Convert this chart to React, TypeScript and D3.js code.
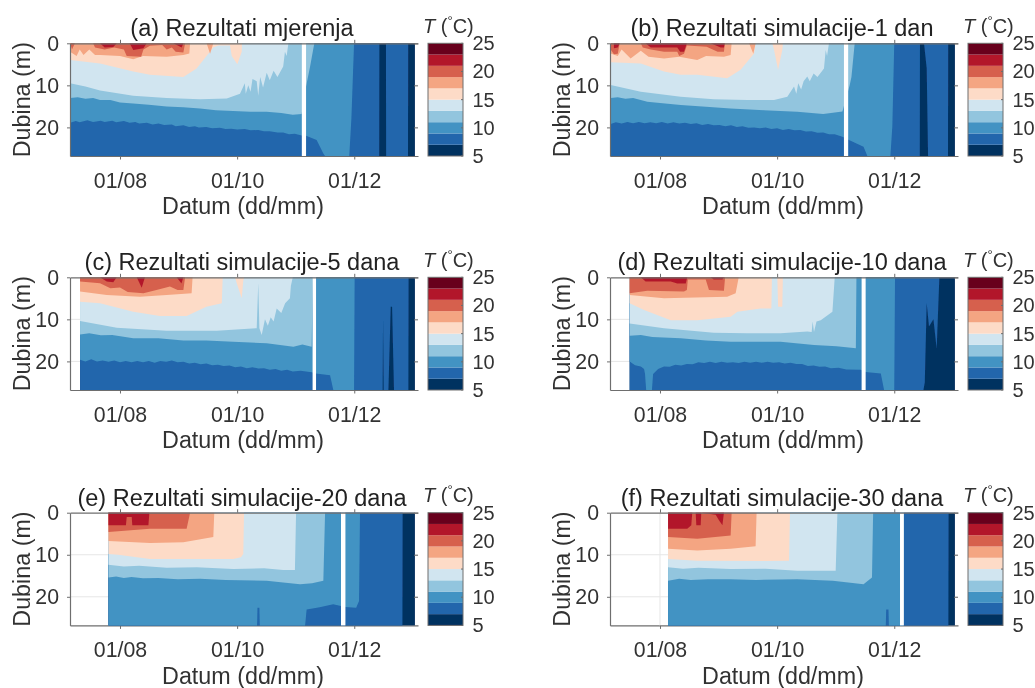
import React, { useEffect, useRef } from 'react';
import * as d3 from 'd3';

type Pt = [number, number];

// x is days counted from 1 Aug, depth is metres
const monthTicks = [0, 61, 122];
const monthLabels = ['01/08', '01/10', '01/12'];
const depthTicks = [0, 10, 20];
const barTicks = [5, 10, 15, 20, 25];
const barEdges = [5, 7, 9, 11, 13, 15, 17, 19, 21, 23, 25];
const bandColors = ['#053061', '#2166ac', '#4393c3', '#92c5de', '#d1e5f0', '#fddbc7', '#f4a582', '#d6604d', '#b2182b', '#67001f'];
const maxDepth = 26.8;
const lastDay = 153.6;

// (a) measurements
const a7: Pt[] = [[-26, 27], [135, 27], [135.1, 0], [138.5, 0], [138.6, 27], [150, 27], [150.1, 0], [lastDay, 0]];
const a9: Pt[] = [[-26, 18.9], [-23, 18.5], [-21, 18.8], [-17, 18.3], [-14, 18.7], [-10, 18.4], [-8, 18.7], [-4, 18.4], [-2, 18.8], [2, 18.5], [5, 18.9], [8, 18.7], [10, 19.1], [14, 18.9], [17, 19.3], [20, 19.1], [23, 19.4], [27, 19.3], [29, 19.7], [33, 19.5], [36, 19.9], [39, 19.7], [41, 20], [45, 19.9], [48, 20.2], [52, 20.1], [55, 20.4], [58, 20.3], [61, 20.5], [65, 20.4], [68, 20.7], [72, 20.6], [75, 20.9], [78, 20.9], [82, 21.2], [85, 21.2], [88, 21.6], [91, 21.5], [94.6, 21.9], [96.9, 22], [102.4, 23], [105.9, 26.2], [106.8, 27], [119.4, 27], [120.5, 18], [121.9, 0], [lastDay, 0]];
const a11: Pt[] = [[-26, 13], [-22, 12.8], [-18, 13.2], [-14, 13], [-10.4, 13.5], [-5, 13.5], [0, 14.1], [6.9, 14.3], [15, 14.6], [24.3, 15], [33, 15.2], [41.7, 15.5], [50, 15.9], [59, 16.1], [68, 16.3], [76.4, 16.3], [84, 16.6], [90, 17], [94.6, 16.8], [96.9, 10.3], [99, 5.5], [101.2, 0], [lastDay, 0]];
const a13: Pt[] = [[-26, 9.5], [-18, 10.3], [-10.4, 11.2], [6.9, 12.5], [24.3, 13], [41.7, 13.3], [55.6, 13.1], [62.5, 12], [65, 9.5], [65.5, 12], [66.8, 10], [68, 11.5], [69, 8.5], [71.2, 9], [72, 12.5], [73, 8], [74.5, 10.5], [76.4, 7], [78, 8.8], [80, 6.5], [82, 8], [85, 5.5], [85.9, 2], [86.8, 3], [87.7, 0], [lastDay, 0]];
const a15: Pt[] = [[-26, 4], [-10.4, 4.8], [6.9, 6.7], [15.6, 7.5], [33, 8], [39.9, 6], [48.6, 1], [51.2, 0.5], [57.3, 0.5], [58.2, 3], [61.1, 5], [63.4, 2], [63.5, 0], [lastDay, 0]];
const a17: Pt[] = [[-26, 2], [-22.6, 3], [-21, 1.5], [-19, 2.8], [-16, 1.5], [-13, 2.8], [-10.4, 2.8], [0, 3], [6.9, 3.8], [12, 3], [24.3, 3.2], [33, 2.8], [36.1, 2.4], [36.5, 0], [45.1, 0], [46.9, 2.5], [48.6, 0], [lastDay, 0]];
const a19: Pt[] = [[-26, 0], [-25, 1.5], [-23.5, 0], [-14, 0], [-13, 1], [-8, 1.5], [-3, 1], [2, 1.5], [3.5, 3], [11, 3.2], [12.2, 1.5], [15.6, 0.6], [22, 0.4], [24.3, 1.5], [27, 1], [29, 2], [33, 2.2], [33.9, 0], [lastDay, 0]];
const a21: Pt[] = [[-10.4, 0], [-8, 1], [-3.5, 0.9], [-1.7, 0], [5, 0], [6.9, 1.6], [12.2, 1.2], [13.9, 0], [27.8, 0], [32.1, 1], [33, 0], [lastDay, 0]];

// (b) simulation, 1 day
const b7: Pt[] = [[-25.7, 27], [135.3, 27], [135.4, 0], [137.5, 0], [138.9, 6], [139.6, 27], [150, 27], [150.1, 0], [lastDay, 0]];
const b9: Pt[] = [[-25.7, 19.2], [-23, 18.8], [-20, 19.1], [-17, 18.7], [-14, 19], [-11, 18.7], [-8, 19], [-5, 18.8], [-2, 19], [1, 18.7], [4, 19.1], [7, 18.8], [10, 19.1], [13, 18.9], [16, 19.2], [19, 19], [22, 19.4], [25, 19.2], [28, 19.5], [31, 19.4], [34, 19.7], [37, 19.5], [40, 19.9], [43, 19.7], [46, 20.1], [49, 20], [52, 20.2], [55, 20], [58, 20.4], [61, 20.2], [64, 20.6], [67, 20.4], [70, 20.7], [73, 20.6], [76, 21], [79, 20.9], [82, 21.3], [85, 21.2], [88, 21.6], [91, 21.6], [95, 22.2], [98.4, 23], [106, 24.6], [108, 27], [120, 27], [121, 19.8], [122, 0], [lastDay, 0]];
const b11: Pt[] = [[-25.7, 13], [-22, 12.8], [-18, 13.2], [-14, 13], [-6.6, 13.9], [0, 14.2], [10.8, 14.7], [24, 15.1], [36.8, 15.5], [54.2, 15.9], [71.5, 16.3], [85, 16.8], [95, 16.2], [98.8, 10], [99.7, 8], [101.4, 0], [lastDay, 0]];
const b13: Pt[] = [[-25.7, 9.9], [-10, 11.5], [10.8, 12.7], [28, 13.3], [45.5, 13.5], [59.4, 13.5], [66.3, 12.7], [69.8, 10.3], [71, 12], [72, 9.5], [73.5, 11], [74.8, 9], [76.7, 7.9], [78, 9], [80, 7.2], [82, 8], [85.4, 6], [86.3, 1.6], [87, 3], [88, 0], [lastDay, 0]];
const b15: Pt[] = [[-25.7, 4.5], [-10, 4.8], [2.1, 6.7], [10.8, 7.5], [19.4, 7.5], [35, 8.3], [42, 6.3], [49, 2.4], [49.8, 0], [58.5, 0], [59.4, 1.6], [61.5, 6.3], [63.7, 1.6], [64, 0], [lastDay, 0]];
const b17: Pt[] = [[-25.7, 2.4], [-22, 3], [-20, 1.5], [-15.3, 3.6], [-10, 1.8], [-6, 3.2], [2.1, 3.6], [10, 3.2], [19.4, 4], [24, 3], [33.3, 3.2], [36.8, 2.8], [37.3, 0], [46.4, 0], [48.6, 2.5], [49.8, 0], [lastDay, 0]];
const b19: Pt[] = [[-25.7, 1.5], [-24, 2.6], [-22, 2.5], [-21, 0], [-10, 0], [-9, 1], [-4.8, 1.5], [2.1, 2], [9, 2], [10, 3], [12.5, 2.5], [14, 0.5], [24.3, 0.8], [30, 2], [33.3, 2], [33.8, 0], [lastDay, 0]];
const b21: Pt[] = [[-24, 1.2], [-22, 1], [-21, 0], [-7.5, 0], [-4.8, 1], [9, 1], [10.5, 2], [12.5, 2], [14, 0], [26.4, 0], [31.6, 1], [33.3, 1], [33.7, 0], [lastDay, 0]];

// (c) simulation, 5 days
const c7: Pt[] = [[-20.8, 27], [136.8, 27], [137, 10], [137.3, 27], [139.8, 27], [141, 7], [141.7, 7], [142.7, 27], [150.2, 27], [150.3, 0], [lastDay, 0]];
const c9: Pt[] = [[-20.8, 19.6], [-18, 20], [-15, 19.5], [-12, 20], [-9, 19.8], [-6, 20.1], [-3, 19.8], [0, 20.2], [3, 19.9], [6, 20.2], [9, 19.9], [12, 20.2], [15, 19.9], [18, 20.3], [21, 19.9], [24, 20.1], [27, 19.8], [30, 20.2], [33, 20.1], [36, 20.5], [39, 20.3], [42, 20.7], [45, 20.5], [48, 20.9], [51, 20.8], [54, 21.1], [57, 21], [60, 21.4], [63, 21.2], [66, 21.6], [69, 21.4], [72, 21.7], [75, 21.6], [78, 22], [81, 21.8], [84, 22.2], [87, 22], [90, 22.4], [94, 22.2], [99.8, 22.6], [102, 22.9], [109.4, 23.3], [111.1, 26.8], [112, 27], [121.9, 27], [122.2, 0], [lastDay, 0]];
const c11: Pt[] = [[-20.8, 13.6], [-16, 13.3], [-10, 13.8], [-4, 13.7], [6.9, 14.5], [20, 14.5], [33, 15], [45, 15], [59, 15.3], [76.4, 15.7], [90.3, 16.5], [95, 16], [99.8, 16.5], [100.4, 0], [lastDay, 0]];
const c13: Pt[] = [[-20.8, 10.4], [-1.7, 12], [24.3, 12.7], [50.3, 12.7], [71.2, 12.1], [72, 1.4], [72.6, 12.1], [73.8, 13.7], [75.5, 10], [77, 11.5], [78.5, 9.5], [80, 10.5], [81.6, 7.4], [84, 8.5], [86, 6.2], [88.5, 5], [89, 2], [90, 0], [lastDay, 0]];
const c15: Pt[] = [[-20.8, 5.8], [-10.4, 6.2], [6.9, 8.2], [20.8, 9.2], [34.7, 9.2], [45, 7], [53, 6.2], [53.5, 0], [59.9, 0], [60.8, 1.4], [63.4, 5], [64.2, 0.8], [64.6, 0], [lastDay, 0]];
const c17: Pt[] = [[-20.8, 3.4], [-6.9, 4.2], [10.4, 4.6], [24.3, 4.2], [37.3, 3.8], [37.8, 0], [lastDay, 0]];
const c19: Pt[] = [[-20.8, 1], [-10.4, 1.4], [-5, 2.6], [0, 2.4], [4, 3.5], [12.2, 3.8], [19, 3], [26, 2.2], [30, 3], [33, 3], [33.9, 0], [lastDay, 0]];
const c21: Pt[] = [[-10.4, 0], [-6.9, 1], [-3.5, 1.2], [-1.7, 0], [8.7, 0], [11.3, 2.5], [13, 0], [29.5, 0], [32, 1.5], [33, 0], [lastDay, 0]];

// (d) simulation, 10 days
const d7: Pt[] = [[-15.8, 27], [137.2, 27], [137.9, 25], [138.9, 6.2], [140.1, 11.7], [142.4, 10], [144.1, 17], [145.5, 0], [lastDay, 0]];
const d9: Pt[] = [[-15.8, 20], [-13, 20.9], [-10, 21.2], [-8.3, 21.8], [-7.8, 23], [-7.2, 26.8], [-4.2, 26.8], [-3.6, 23], [-1, 21.8], [2.1, 21.2], [5, 21.3], [8, 20.8], [11, 21], [14, 20.6], [17, 20.7], [20, 20.2], [23, 20.4], [26, 20.1], [29, 20.4], [32, 20.1], [35, 20.3], [38, 20.2], [41, 20.4], [44, 20.1], [47, 20.3], [50, 20.1], [53, 20.3], [56, 20.1], [59, 20.3], [62, 20.2], [65, 20.5], [68, 20.3], [71, 20.6], [74, 20.6], [77, 21.1], [80, 21], [83, 21.3], [86, 21.2], [89, 21.6], [93, 21.5], [97, 21.9], [104.5, 22], [107, 22.5], [115, 22.9], [116.7, 27], [122, 27], [122.4, 0], [lastDay, 0]];
const d11: Pt[] = [[-15.8, 13.9], [-10, 13.7], [-4, 14.2], [10.8, 14.5], [24, 15], [36.8, 15.3], [62.8, 15.3], [80.2, 16.1], [92, 16.4], [102, 16.9], [102.3, 0], [lastDay, 0]];
const d13: Pt[] = [[-15.8, 11], [2.1, 12.1], [28, 13.2], [45.5, 13.3], [62.8, 13.3], [76.7, 12.9], [79, 13], [79.5, 10.5], [80.2, 13], [81.5, 10.5], [83.7, 10.2], [89.8, 8.2], [91, 0], [lastDay, 0]];
const d15: Pt[] = [[-15.8, 6.2], [-8.3, 7.8], [5.6, 10.2], [19.4, 10.2], [36.8, 9.4], [40.3, 8.2], [52.4, 7.4], [58, 7.4], [58.3, 0], [61.1, 0], [61.5, 7], [63.7, 7], [64, 0], [lastDay, 0]];
const d17: Pt[] = [[-15.8, 4.2], [2.1, 5], [35, 4.6], [39.4, 3.8], [41, 0], [lastDay, 0]];
const d19: Pt[] = [[-15.8, 3.8], [-6.6, 3.2], [12.5, 3.4], [14, 3], [14.5, 0.5], [23.8, 0.5], [25.5, 3], [33.3, 3.2], [33.9, 0], [lastDay, 0]];
const d21: Pt[] = [[-10, 0], [-7.5, 1], [5.6, 1], [9, 1.5], [13.4, 1.5], [14.2, 0], [26.4, 0], [28, 0.5], [32.5, 0.5], [33.3, 0], [lastDay, 0]];

// (e) simulation, 20 days
const e7: Pt[] = [[-6, 27], [147.1, 27], [147.2, 0], [lastDay, 0]];
const e9: Pt[] = [[-6, 27], [71.4, 27], [71.6, 22.6], [72.6, 22.6], [72.8, 27], [96.4, 27], [97.2, 23], [104, 22.5], [111, 21.8], [117.4, 22.4], [123, 22.6], [124.5, 21], [125, 0], [lastDay, 0]];
const e11: Pt[] = [[-6, 15.4], [-2, 15.2], [2, 15.5], [6, 15.3], [12, 15.6], [20, 15.5], [30, 15.8], [41.7, 15.7], [55, 16], [76.4, 16.2], [85, 16.6], [93.8, 17], [100, 16.8], [105.9, 16.2], [106.8, 0], [lastDay, 0]];
const e13: Pt[] = [[-6, 12.4], [2, 12.8], [10, 12.6], [24.3, 13.1], [40, 13], [59, 13.4], [75, 13.2], [85, 13.6], [91.1, 13.6], [91.7, 0], [lastDay, 0]];
const e15: Pt[] = [[-6, 9.8], [-1, 10], [15.6, 11], [41.7, 11], [59, 11], [63, 10.6], [64.2, 9.8], [64.6, 0], [lastDay, 0]];
const e17: Pt[] = [[-6, 6.7], [15.6, 7.2], [33, 7], [48.6, 5.8], [49.1, 0], [lastDay, 0]];
const e19: Pt[] = [[-6, 4.6], [15.6, 3.8], [34.7, 3.8], [36.5, 0], [lastDay, 0]];
const e21: Pt[] = [[-6, 3], [3.1, 3], [3.5, 1], [6.1, 1], [6.4, 3], [14.8, 3], [15.3, 0], [lastDay, 0]];

// (f) simulation, 30 days
const f7: Pt[] = [[4.2, 27], [150.2, 27], [150.3, 0], [lastDay, 0]];
const f9: Pt[] = [[4.2, 27], [117.6, 27], [117.8, 23], [119, 23], [119.2, 27], [126.7, 27], [127, 0], [lastDay, 0]];
const f11: Pt[] = [[4.2, 16.2], [10, 15.7], [16, 16], [25, 15.8], [36.8, 15.8], [50, 16], [71.5, 15.8], [90, 16.2], [106, 17], [110.4, 15.4], [111, 0], [lastDay, 0]];
const f13: Pt[] = [[4.2, 13], [12, 13.3], [20, 13.1], [36.8, 13.4], [55, 13.3], [71.5, 13.8], [91.5, 13.8], [92.4, 0], [lastDay, 0]];
const f15: Pt[] = [[4.2, 11], [19.4, 11.4], [54.2, 11.5], [67.2, 11.4], [67.7, 0], [lastDay, 0]];
const f17: Pt[] = [[4.2, 8.6], [19.4, 9], [36.8, 8.6], [49.8, 8], [50.3, 0], [lastDay, 0]];
const f19: Pt[] = [[4.2, 5.8], [19.4, 6.2], [36.8, 5.4], [37.3, 0], [lastDay, 0]];
const f21: Pt[] = [[4.2, 3.8], [14.2, 3.8], [16.3, 3], [16.8, 0], [18.6, 0], [18.9, 3], [21.2, 3], [21.5, 0], [29, 0.5], [30.7, 1.8], [32.5, 3], [33.3, 0], [lastDay, 0]];

const panels = [
  { title: '(a) Rezultati mjerenja', left: 70, top: 43.3, start: -26, gap: [94.7, 96.9], iso: [a7, a9, a11, a13, a15, a17, a19, a21] },
  { title: '(b) Rezultati simulacije-1 dan', left: 610, top: 43.3, start: -25.7, gap: [95.8, 98], iso: [b7, b9, b11, b13, b15, b17, b19, b21] },
  { title: '(c) Rezultati simulacije-5 dana', left: 70, top: 277.3, start: -20.8, gap: [100.3, 102.1], iso: [c7, c9, c11, c13, c15, c17, c19, c21] },
  { title: '(d) Rezultati simulacije-10 dana', left: 610, top: 277.3, start: -15.8, gap: [105, 107.1], iso: [d7, d9, d11, d13, d15, d17, d19, d21] },
  { title: '(e) Rezultati simulacije-20 dana', left: 70, top: 512.7, start: -6, gap: [115.1, 117.4], iso: [e7, e9, e11, e13, e15, e17, e19, e21] },
  { title: '(f) Rezultati simulacije-30 dana', left: 610, top: 512.7, start: 4.2, gap: [125, 127], iso: [f7, f9, f11, f13, f15, f17, f19, f21] },
];

const textColor = '#333333';
const axisColor = '#6e6e6e';
const gridColor = '#e6e6e6';
const fontFamily = '"Liberation Sans", Arial, sans-serif';

const App: React.FC = () => {
  const svgRef = useRef<SVGSVGElement>(null);

  useEffect(() => {
    if (!svgRef.current) return;

    const width = 1035;
    const height = 688;
    const plotW = 348;
    const plotH = 112.7;

    d3.select(svgRef.current).selectAll('*').remove();

    const root = d3.select(svgRef.current)
      .attr('width', width)
      .attr('height', height)
      .attr('viewBox', `0 0 ${width} ${height}`)
      .style('position', 'absolute')
      .style('left', 0)
      .style('top', 0)
      .style('font-family', fontFamily);

    // The reference is a resampled bitmap, so everything is a little soft
    root.append('defs').append('filter')
      .attr('id', 'soft')
      .attr('x', 0).attr('y', 0).attr('width', 1).attr('height', 1)
      .append('feGaussianBlur').attr('stdDeviation', 0.45);
    const svg = root.append('g').attr('filter', 'url(#soft)');
    svg.append('rect').attr('width', width).attr('height', height).attr('fill', '#ffffff');

    const x = d3.scaleLinear().domain([-26.04, 155.2]).range([0, plotW]);
    const y = d3.scaleLinear().domain([0, maxDepth]).range([0, plotH]);
    const barY = d3.scaleLinear().domain([5, 25]).range([plotH, 0]);

    panels.forEach(p => {
      const g = svg.append('g').attr('transform', `translate(${p.left},${p.top})`);

      // Axes that sit under the contours
      const xAxis = g.append('g')
        .attr('transform', `translate(0,${plotH})`)
        .call(d3.axisBottom(x).tickValues(monthTicks).tickFormat((_, i) => monthLabels[i]).tickSize(3.5).tickSizeOuter(0).tickPadding(13));

      // Grid
      g.selectAll('.gx').data(monthTicks).enter().append('line')
        .attr('x1', d => x(d)).attr('x2', d => x(d)).attr('y1', 0).attr('y2', plotH)
        .attr('stroke', gridColor);
      g.selectAll('.gy').data(depthTicks.slice(1)).enter().append('line')
        .attr('x1', 0).attr('x2', plotW).attr('y1', d => y(d)).attr('y2', d => y(d))
        .attr('stroke', gridColor);

      // Coldest band first, then each warmer one from the surface down to its isotherm
      g.append('rect')
        .attr('x', x(p.start)).attr('y', 0)
        .attr('width', x(lastDay) - x(p.start)).attr('height', plotH)
        .attr('fill', bandColors[0]);

      const area = d3.area<Pt>()
        .x(d => x(d[0]))
        .y0(0)
        .y1(d => y(Math.min(d[1], maxDepth)));

      p.iso.forEach((pts, i) => {
        g.append('path').attr('d', area(pts)).attr('fill', bandColors[i + 1]);
      });

      g.append('rect')
        .attr('x', x(p.gap[0])).attr('y', 0)
        .attr('width', x(p.gap[1]) - x(p.gap[0])).attr('height', plotH)
        .attr('fill', '#ffffff');

      const yAxis = g.append('g')
        .call(d3.axisLeft(y).tickValues(depthTicks).tickSize(3).tickSizeOuter(0).tickPadding(8));
      const top = g.append('g')
        .call(d3.axisTop(x).tickValues(monthTicks).tickFormat(() => '').tickSize(3.5).tickSizeOuter(0));
      const right = g.append('g')
        .attr('transform', `translate(${plotW},0)`)
        .call(d3.axisLeft(y).tickValues(depthTicks).tickFormat(() => '').tickSize(4).tickSizeOuter(0));
      [xAxis, yAxis, top, right].forEach(a => {
        a.selectAll('line').attr('stroke', axisColor);
        a.selectAll('.domain').attr('stroke', axisColor).attr('stroke-width', 1.2);
        a.selectAll('text').attr('fill', textColor).style('font-size', '21.3px').style('font-family', fontFamily);
      });
      right.select('.domain').attr('stroke', 'none');

      g.append('text')
        .attr('x', plotW / 2 - 2).attr('y', -7)
        .attr('text-anchor', 'middle')
        .attr('fill', '#222222')
        .style('font-size', '23.5px')
        .text(p.title);

      g.append('text')
        .attr('x', plotW / 2 - 1).attr('y', plotH + 58.5)
        .attr('text-anchor', 'middle')
        .attr('fill', textColor)
        .style('font-size', '23.3px')
        .text('Datum (dd/mm)');

      g.append('text')
        .attr('transform', `translate(-40,${plotH / 2}) rotate(-90)`)
        .attr('text-anchor', 'middle')
        .attr('fill', textColor)
        .style('font-size', '23.3px')
        .text('Dubina (m)');

      // Colour bar
      const bar = g.append('g').attr('transform', `translate(${plotW + 10},0)`);
      bar.selectAll('rect').data(bandColors).enter().append('rect')
        .attr('x', 0).attr('width', 35)
        .attr('y', (_, i) => barY(barEdges[i + 1]))
        .attr('height', (_, i) => barY(barEdges[i]) - barY(barEdges[i + 1]))
        .attr('fill', d => d);
      bar.append('rect')
        .attr('width', 35).attr('height', plotH)
        .attr('fill', 'none').attr('stroke', axisColor);
      bar.selectAll('.tick-line').data(barTicks).enter().append('line')
        .attr('x1', 33).attr('x2', 35)
        .attr('y1', d => barY(d)).attr('y2', d => barY(d))
        .attr('stroke', axisColor);
      bar.selectAll('text').data(barTicks).enter().append('text')
        .attr('x', 44.5)
        .attr('y', d => barY(d) + 7)
        .attr('fill', textColor)
        .style('font-size', '20px')
        .text(d => d);

      const unit = bar.append('text').attr('x', -5).attr('y', -10.5).attr('fill', textColor).style('font-size', '20px');
      unit.append('tspan').style('font-style', 'italic').text('T');
      unit.append('tspan').text(' (');
      unit.append('tspan').attr('dy', -8).style('font-size', '13px').text('°');
      unit.append('tspan').attr('dy', 8).text('C)');
    });
  }, []);

  return <svg ref={svgRef} />;
};

export default App;
